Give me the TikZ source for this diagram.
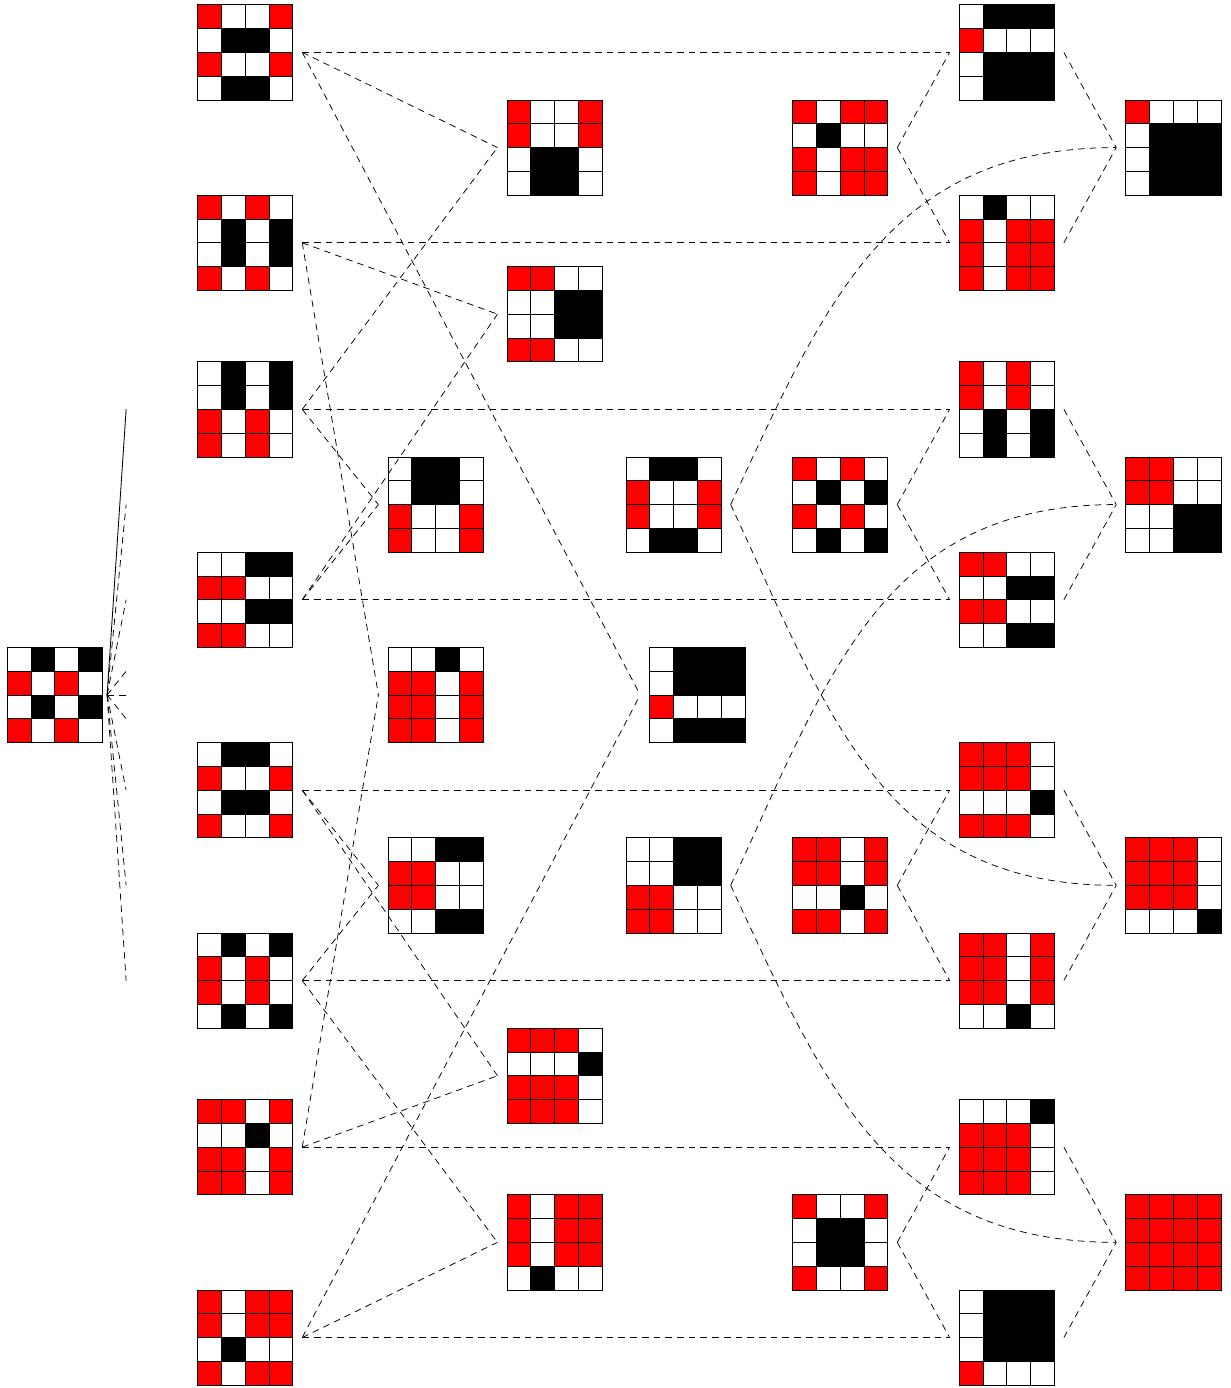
\documentclass[tikz,border=0pt]{standalone}
\usetikzlibrary{calc}

\colorlet{cR}{red}
\colorlet{cB}{black}
\colorlet{cW}{white}

\tikzset{
  cell/.style={draw=black, line width=0.5pt},
  link/.style={dash pattern=on 4pt off 3pt, line width=0.45pt},
}

% name, x, y, cells row by row
\newcommand{\cellgrid}[4]{%
  \foreach \c [count=\i from 0] in {#4} {
    \pgfmathtruncatemacro{\cx}{mod(\i,4)}
    \pgfmathtruncatemacro{\cy}{int(\i/4)}
    \draw[cell, fill=c\c] (#2+\cx,#3+\cy) rectangle ++(1,1);
  }
  \coordinate (#1-w) at (#2-0.4,#3+2);
  \coordinate (#1-e) at (#2+4.4,#3+2);
}

\begin{document}
\begin{tikzpicture}[x=0.5cm, y=-0.5cm]
\useasboundingbox (-0.3,-0.2) rectangle (51.42,58.12);

% start grid
\cellgrid{s0}{0}{27}{W,B,W,B,R,W,R,W,W,B,W,B,R,W,R,W}

% first column
\cellgrid{a1}{8}{0}{R,W,W,R,W,B,B,W,R,W,W,R,W,B,B,W}
\cellgrid{a2}{8}{8}{R,W,R,W,W,B,W,B,W,B,W,B,R,W,R,W}
\cellgrid{a3}{8}{15}{W,B,W,B,W,B,W,B,R,W,R,W,R,W,R,W}
\cellgrid{a4}{8}{23}{W,W,B,B,R,R,W,W,W,W,B,B,R,R,W,W}
\cellgrid{a5}{8}{31}{W,B,B,W,R,W,W,R,W,B,B,W,R,W,W,R}
\cellgrid{a6}{8}{39}{W,B,W,B,R,W,R,W,R,W,R,W,W,B,W,B}
\cellgrid{a7}{8}{46}{R,R,W,R,W,W,B,W,R,R,W,R,R,R,W,R}
\cellgrid{a8}{8}{54}{R,W,R,R,R,W,R,R,W,B,W,W,R,W,R,R}

% second column
\cellgrid{b1}{16}{19}{W,B,B,W,W,B,B,W,R,W,W,R,R,W,W,R}
\cellgrid{b2}{16}{27}{W,W,B,W,R,R,W,R,R,R,W,R,R,R,W,R}
\cellgrid{b3}{16}{35}{W,W,B,B,R,R,W,W,R,R,W,W,W,W,B,B}

% third column
\cellgrid{c1}{21}{4}{R,W,W,R,R,W,W,R,W,B,B,W,W,B,B,W}
\cellgrid{c2}{21}{11}{R,R,W,W,W,W,B,B,W,W,B,B,R,R,W,W}
\cellgrid{c3}{21}{43}{R,R,R,W,W,W,W,B,R,R,R,W,R,R,R,W}
\cellgrid{c4}{21}{50}{R,W,R,R,R,W,R,R,R,W,R,R,W,B,W,W}

% fourth column
\cellgrid{d1}{26}{19}{W,B,B,W,R,W,W,R,R,W,W,R,W,B,B,W}
\cellgrid{d2}{27}{27}{W,B,B,B,W,B,B,B,R,W,W,W,W,B,B,B}
\cellgrid{d3}{26}{35}{W,W,B,B,W,W,B,B,R,R,W,W,R,R,W,W}

% fifth column
\cellgrid{e1}{33}{4}{R,W,R,R,W,B,W,W,R,W,R,R,R,W,R,R}
\cellgrid{e2}{33}{19}{R,W,R,W,W,B,W,B,R,W,R,W,W,B,W,B}
\cellgrid{e3}{33}{35}{R,R,W,R,R,R,W,R,W,W,B,W,R,R,W,R}
\cellgrid{e4}{33}{50}{R,W,W,R,W,B,B,W,W,B,B,W,R,W,W,R}

% sixth column
\cellgrid{f1}{40}{0}{W,B,B,B,R,W,W,W,W,B,B,B,W,B,B,B}
\cellgrid{f2}{40}{8}{W,B,W,W,R,W,R,R,R,W,R,R,R,W,R,R}
\cellgrid{f3}{40}{15}{R,W,R,W,R,W,R,W,W,B,W,B,W,B,W,B}
\cellgrid{f4}{40}{23}{R,R,W,W,W,W,B,B,R,R,W,W,W,W,B,B}
\cellgrid{f5}{40}{31}{R,R,R,W,R,R,R,W,W,W,W,B,R,R,R,W}
\cellgrid{f6}{40}{39}{R,R,W,R,R,R,W,R,R,R,W,R,W,W,B,W}
\cellgrid{f7}{40}{46}{W,W,W,B,R,R,R,W,R,R,R,W,R,R,R,W}
\cellgrid{f8}{40}{54}{W,B,B,B,W,B,B,B,W,B,B,B,R,W,W,W}

% last column
\cellgrid{g1}{47}{4}{R,W,W,W,W,B,B,B,W,B,B,B,W,B,B,B}
\cellgrid{g2}{47}{19}{R,R,W,W,R,R,W,W,W,W,B,B,W,W,B,B}
\cellgrid{g3}{47}{35}{R,R,R,W,R,R,R,W,R,R,R,W,W,W,W,B}
\cellgrid{g4}{47}{50}{R,R,R,R,R,R,R,R,R,R,R,R,R,R,R,R}

% fan out of the start grid
\coordinate (s0-tip) at (4.2,29);
\coordinate (t0) at (5,17);
\draw[line width=0.5pt] (s0-tip) -- (t0);
\foreach \y [count=\k] in {21,25,28,29,30,33,37,41}
  \coordinate (t\k) at (5,\y);
\foreach \k in {1,...,8}
  \draw[link] (s0-tip) -- (t\k);

% straight across
\foreach \k in {1,...,8}
  \draw[link] (a\k-e) -- (f\k-w);

% first column to second and third
\draw[link] (a1-e) -- (c1-w);
\draw[link] (a3-e) -- (c1-w);
\draw[link] (a2-e) -- (c2-w);
\draw[link] (a4-e) -- (c2-w);
\draw[link] (a5-e) -- (c3-w);
\draw[link] (a7-e) -- (c3-w);
\draw[link] (a6-e) -- (c4-w);
\draw[link] (a8-e) -- (c4-w);
\draw[link] (a3-e) -- (b1-w);
\draw[link] (a4-e) -- (b1-w);
\draw[link] (a2-e) -- (b2-w);
\draw[link] (a7-e) -- (b2-w);
\draw[link] (a5-e) -- (b3-w);
\draw[link] (a6-e) -- (b3-w);
\draw[link] (a1-e) -- (d2-w);
\draw[link] (a8-e) -- (d2-w);

% fourth column to last
\draw[link] (d1-e) to[out=65,in=180,looseness=1.1] (g1-w);
\draw[link] (d1-e) to[out=-65,in=180,looseness=1.1] (g3-w);
\draw[link] (d3-e) to[out=65,in=180,looseness=1.1] (g2-w);
\draw[link] (d3-e) to[out=-65,in=180,looseness=1.1] (g4-w);

% fifth column to sixth
\foreach \e/\u/\v in {e1/f1/f2, e2/f3/f4, e3/f5/f6, e4/f7/f8} {
  \draw[link] (\e-e) -- (\u-w);
  \draw[link] (\e-e) -- (\v-w);
}

% sixth column to last
\foreach \u/\v/\g in {f1/f2/g1, f3/f4/g2, f5/f6/g3, f7/f8/g4} {
  \draw[link] (\u-e) -- (\g-w);
  \draw[link] (\v-e) -- (\g-w);
}
\end{tikzpicture}
\end{document}
